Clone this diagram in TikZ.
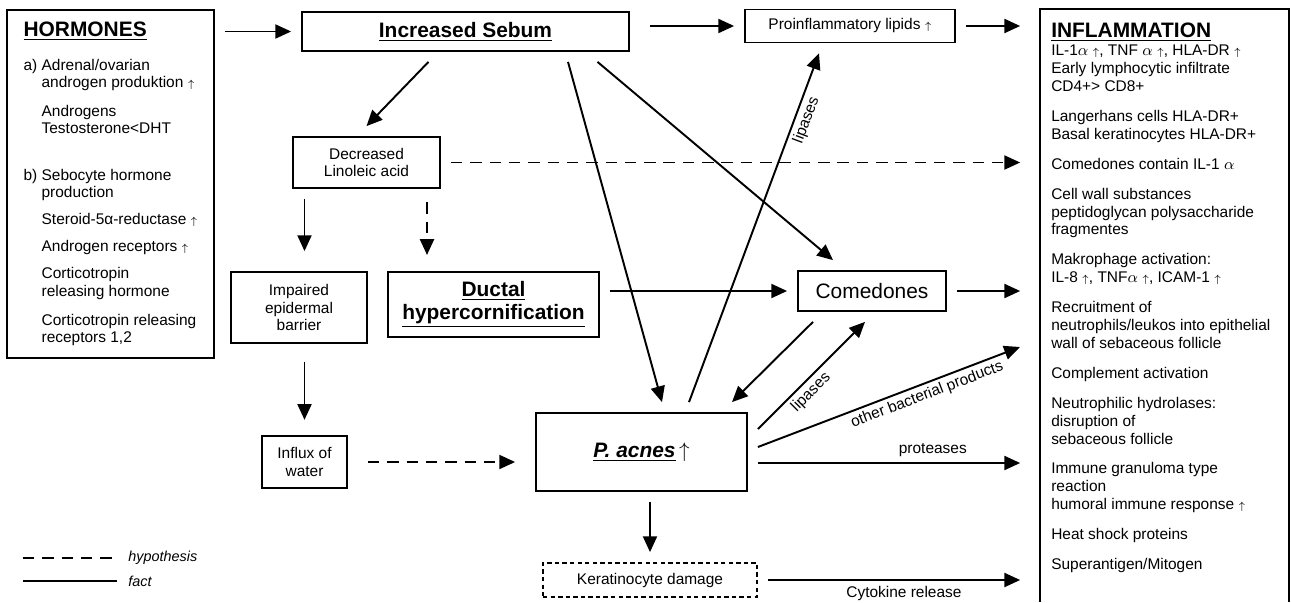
\documentclass[tikz,border=0pt]{standalone}
\usepackage{fontspec}
\setmainfont{Liberation Sans}
\usepackage{tikz}
\usetikzlibrary{arrows.meta}

\newlength{\pix}
\setlength{\pix}{0.02cm}
\newcommand{\incr}{$\scriptstyle\uparrow$}
\newcommand{\bodyfont}{\fontsize{8.8}{9.9}\selectfont}
\newcommand{\headfont}{\fontsize{11.9}{13}\selectfont\bfseries}

\tikzset{
	box/.style={draw, line width=0.7pt, outer sep=6.2pt, inner sep=0pt, align=center, font=\bodyfont},
	fact/.style={-{Triangle[length=9pt,width=8pt]}, line width=1.1pt},
	hypothesis/.style={fact, dash pattern=on 6.5pt off 4.5pt},
	lbl/.style={font=\bodyfont, inner sep=2pt},
}

\begin{document}
\begin{tikzpicture}[x=0.02cm, y=-0.02cm]
			\useasboundingbox (0,0) rectangle (1291,602);
			% boxes
			\node[box, align=left, minimum width=207\pix, minimum height=348\pix] (horm) at (110.5,184) {%
				{\headfont\underline{HORMONES}}\\[9pt]
				a) Adrenal/ovarian\\
				\phantom{a) }androgen produktion \incr\\[6.5pt]
				\phantom{a) }Androgens\\
				\phantom{a) }Testosterone<DHT\\[16.7pt]
				b) Sebocyte hormone\\
				\phantom{a) }production\\[5.5pt]
				\phantom{a) }Steroid-5α-reductase \incr\\[5.5pt]
				\phantom{a) }Androgen receptors \incr\\[5.5pt]
				\phantom{a) }Corticotropin\\
				\phantom{a) }releasing hormone\\[6.5pt]
				\phantom{a) }Corticotropin releasing\\
				\phantom{a) }receptors 1,2};
			\node[box, font=\headfont, minimum width=327\pix, minimum height=39\pix] (sebum) at (465.5,31.5) {\underline{Increased Sebum}};
			\node[box, minimum width=210\pix, minimum height=33\pix] (proinfl) at (850,26) {Proinflammatory lipids \incr};
			\node[anchor=north west, align=left, font=\fontsize{8.8}{10.2}\selectfont, inner xsep=6.2pt, inner ysep=7.9pt] (inflam) at (1040,9) {%
				{\headfont\underline{INFLAMMATION}}\\
				IL-1$\alpha$ \incr, TNF $\alpha$ \incr, HLA-DR \incr\\
				Early lymphocytic infiltrate\\
				CD4+> CD8+\\[6.8pt]
				Langerhans cells HLA-DR+\\
				Basal keratinocytes HLA-DR+\\[6.8pt]
				Comedones contain IL-1 $\alpha$\\[6.8pt]
				Cell wall substances\\
				peptidoglycan polysaccharide\\
				fragmentes\\[6.8pt]
				Makrophage activation:\\
				IL-8 \incr, TNF$\alpha$ \incr, ICAM-1 \incr\\[6.8pt]
				Recruitment of\\
				neutrophils/leukos into epithelial\\
				wall of sebaceous follicle\\[6.8pt]
				Complement activation\\[6.8pt]
				Neutrophilic hydrolases:\\
				disruption of\\
				sebaceous follicle\\[6.8pt]
				Immune granuloma type\\
				reaction\\
				humoral immune response \incr\\[6.8pt]
				Heat shock proteins\\[6.8pt]
				Superantigen/Mitogen};
			\coordinate (rbot) at (1289,602);
			\draw[line width=0.7pt] (inflam.north west |- rbot) |- (rbot |- inflam.north) -- (rbot);
			\node[box, minimum width=147\pix, minimum height=51\pix] (declin) at (366.5,162.5) {Decreased\\Linoleic acid};
			\node[box, minimum width=136\pix, minimum height=71\pix] (barrier) at (299,307.5) {Impaired\\epidermal\\barrier};
			\node[box, font=\headfont, minimum width=211\pix, minimum height=65\pix] (ductal) at (493.5,304.5) {\underline{Ductal}\\\underline{hypercornification}};
			\node[box, font=\fontsize{11.9}{13}\selectfont, minimum width=148\pix, minimum height=40\pix] (comed) at (872,291) {Comedones};
			\node[box, minimum width=85\pix, minimum height=52\pix] (influx) at (304.5,462) {Influx of\\water};
			\node[box, font=\fontsize{11.9}{13}\selectfont, minimum width=211\pix, minimum height=78\pix] (pacnes) at (641.5,452) {\underline{\textbf{\textit{P. acnes}}}\,$\uparrow$};
			\node[box, line width=0.6pt, dash pattern=on 2.5pt off 1.8pt, minimum width=214\pix, minimum height=34\pix] (kerat) at (650,580) {Keratinocyte damage};
			% legend
			\node[anchor=west, inner sep=0pt, font=\fontsize{8.2}{9}\selectfont\itshape] (hyp) at (128,558) {hypothesis};
			\node[anchor=west, inner sep=0pt, font=\fontsize{8.2}{9}\selectfont\itshape] (fct) at (128,581) {fact};
			\draw[line width=1.1pt, dash pattern=on 6.5pt off 4.5pt] ([shift={(-105,0)}]hyp.west) -- ([shift={(-11,0)}]hyp.west);
			\draw[line width=1.1pt] ([shift={(-105,0)}]fct.west) -- ([shift={(-11,0)}]fct.west);
			% arrows
			\draw[fact] (horm.east |- sebum.west) -- (sebum.west);
			\draw[fact, shorten <=5.5pt] (sebum.east |- proinfl.west) -- (proinfl.west);
			\draw[fact, shorten >=11.3pt] (proinfl.east) -- (proinfl.east -| inflam.west);
			\draw[fact] ([shift={(-37,0)}]sebum.south) -- (declin.north);
			\draw[hypothesis, shorten >=11.3pt] (declin.east) -- (declin.east -| inflam.west);
			\draw[fact, shorten >=5.7pt] (influx.north |- declin.south) -- (influx.north |- barrier.north);
			\coordinate (dd) at ([shift={(60.5,0)}]declin.south);
			\draw[hypothesis, shorten <=2pt, shorten >=3.5pt] (dd) -- (dd |- ductal.north);
			\draw[fact, shorten <=4.5pt, shorten >=3pt] (influx.north |- barrier.south) -- (influx.north);
			\draw[hypothesis, shorten <=5.7pt, shorten >=5.7pt] (influx.east) -- (influx.east -| pacnes.west);
			\draw[fact] ([shift={(102.5,0)}]sebum.south) -- ([shift={(20.5,0)}]pacnes.north);
			\draw[fact] ([shift={(132,0)}]sebum.south) -- ([shift={(-39,0)}]comed.north);
			\draw[fact] ([shift={(47.5,0)}]pacnes.north) -- node[lbl, pos=0.82, sloped, below] {lipases} ([shift={(-31,0)}]proinfl.south);
			\draw[fact] (ductal.east |- comed.west) -- (comed.west);
			\draw[fact, shorten >=11.3pt] (comed.east) -- (comed.east -| inflam.west);
			\draw[fact] ([shift={(-59,0)}]comed.south) -- ([shift={(90.5,0)}]pacnes.north);
			\draw[fact] ([shift={(0,-23)}]pacnes.east) -- node[lbl, pos=0.42, sloped, below] {lipases} ([shift={(-7,0)}]comed.south);
			\coordinate (bact) at (1020,347);
			\draw[fact] ([shift={(0,-5)}]pacnes.east) -- node[lbl, pos=0.63, sloped, below] {other bacterial products} (bact);
			\coordinate (prot) at ([shift={(0,11)}]pacnes.east);
			\draw[fact, shorten >=11.3pt] (prot) -- node[lbl, pos=0.62, above=1pt] {proteases} (prot -| inflam.west);
			\draw[fact] (kerat.north |- pacnes.south) -- (kerat.north);
			\draw[fact, shorten >=11.3pt] (kerat.east) -- node[lbl, pos=0.5, below=1pt] {Cytokine release} (kerat.east -| inflam.west);
\end{tikzpicture}
\end{document}
